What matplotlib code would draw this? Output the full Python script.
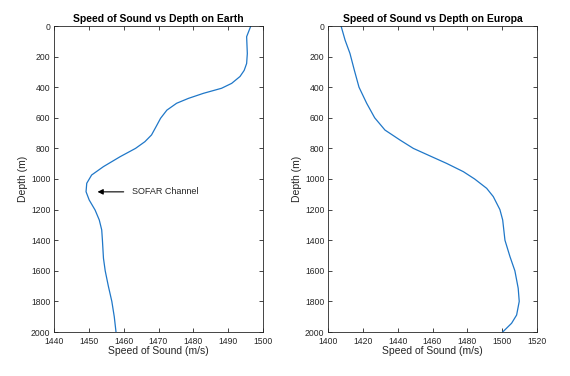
import matplotlib
matplotlib.use("Agg")
import matplotlib.pyplot as plt

plt.rcParams['font.family'] = ['Liberation Sans', 'DejaVu Sans']

earth_depth = [0, 70, 180, 245, 290, 330, 375, 407, 440, 473, 505, 550, 603, 658, 712, 756, 800, 854,
               919, 974, 1028, 1083, 1137, 1203, 1268, 1333, 1400, 1518, 1600, 1700, 1800, 1900, 2000]
earth_speed = [1496.5, 1495.3, 1495.5, 1495.3, 1494.6, 1493.4, 1491.0, 1488.1, 1482.9, 1478.6, 1475.2,
               1472.4, 1470.6, 1469.3, 1468.0, 1466.1, 1463.4, 1459.0, 1454.2, 1450.8, 1449.4, 1449.2,
               1450.1, 1451.8, 1453.0, 1453.7, 1453.9, 1454.2, 1454.7, 1455.6, 1456.6, 1457.3, 1457.8]

europa_depth = [0, 92, 179, 288, 400, 505, 600, 680, 745, 800, 854, 898, 952, 1000, 1061, 1115, 1200,
                1268, 1400, 1508, 1600, 1714, 1800, 1889, 1943, 2000]
europa_speed = [1407.5, 1409.8, 1412.6, 1415.1, 1417.8, 1422.2, 1426.8, 1432.7, 1441.3, 1449.0, 1459.5,
                1468.1, 1477.7, 1484.2, 1491.1, 1494.9, 1498.7, 1500.3, 1501.6, 1504.5, 1507.3, 1509.2,
                1509.8, 1508.3, 1505.4, 1500.3]

earth_xticks = [1440, 1450, 1460, 1470, 1480, 1490, 1500]
europa_xticks = [1400, 1420, 1440, 1460, 1480, 1500, 1520]
yticks = [0, 200, 400, 600, 800, 1000, 1200, 1400, 1600, 1800, 2000]

W, H = 570, 376
fig = plt.figure(figsize=(W / 100, H / 100), dpi=100)
ax1 = fig.add_axes([54 / W, 1 - 332 / H, 209 / W, 306 / H])
ax2 = fig.add_axes([328 / W, 1 - 332 / H, 209 / W, 306 / H])

line_color = '#1f77c8'
axcol = '#262626'

def style(ax, xticks, xlim, title):
    ax.set_xlim(*xlim)
    ax.set_ylim(2000, 0)
    ax.set_xticks(xticks)
    ax.set_yticks(yticks)
    ax.tick_params(direction='in', top=True, right=True, length=3, width=0.6,
                   labelsize=6.2, colors=axcol)
    ax.tick_params(axis='x', pad=3.5)
    ax.tick_params(axis='y', pad=2.5)
    for s in ax.spines.values():
        s.set_linewidth(0.6)
        s.set_color(axcol)
    ax.set_title(title, fontsize=7.5, fontweight='bold', pad=3, color='black')
    ax.set_xlabel('Speed of Sound (m/s)', fontsize=7.5, color=axcol, labelpad=0)
    ax.set_ylabel('Depth (m)', fontsize=7.5, color=axcol, labelpad=2)

ax1.plot(earth_speed, earth_depth, color=line_color, lw=0.9)
style(ax1, earth_xticks, (1440, 1500), 'Speed of Sound vs Depth on Earth')
ax1.annotate('', xy=(1451.7, 1084), xytext=(1460.8, 1084),
             arrowprops=dict(arrowstyle='-|>', color='black', lw=0.8, mutation_scale=8))
ax1.text(1462.3, 1084, 'SOFAR Channel', fontsize=6.5, va='center', ha='left', color=axcol)

ax2.plot(europa_speed, europa_depth, color=line_color, lw=0.9)
style(ax2, europa_xticks, (1400, 1520), 'Speed of Sound vs Depth on Europa')

fig.savefig('out.png', dpi=100)
